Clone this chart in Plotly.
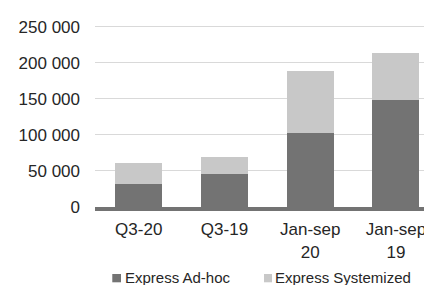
import plotly.graph_objects as go

categories = ["Q3-20", "Q3-19", "Jan-sep<br>20", "Jan-sep<br>19"]
adhoc = [32400, 46300, 103100, 148400]
total = [61500, 69800, 188200, 214000]
systemized = [t - a for t, a in zip(total, adhoc)]
y_ticks = [0, 50000, 100000, 150000, 200000, 250000]
series_names = ["Express Ad-hoc", "Express Systemized"]
series_colors = ["#737373", "#c8c8c8"]

fig = go.Figure()
fig.add_trace(go.Bar(x=categories, y=adhoc, name=series_names[0],
                     marker=dict(color=series_colors[0], line=dict(width=0))))
fig.add_trace(go.Bar(x=categories, y=systemized, name=series_names[1],
                     marker=dict(color=series_colors[1], line=dict(width=0))))

# legend drawn as annotations + small squares (to match the reference layout)
# paper y: plot area spans fig px 2..199 (197 px)
def py(fig_y):
    return (199 - fig_y) / 197

leg_sq = [(0.0513, 0.0772), (0.5015, 0.5252)]
leg_tx = [0.0869, 0.5312]
shapes = []
annotations = []
for (x0, x1), tx, name, col in zip(leg_sq, leg_tx, series_names, series_colors):
    shapes.append(dict(type="rect", xref="paper", yref="paper", x0=x0, x1=x1,
                       y0=py(274.3), y1=py(266), fillcolor=col, line=dict(width=0)))
    annotations.append(dict(xref="paper", yref="paper", x=tx, y=py(269),
                            xanchor="left", yanchor="middle", showarrow=False,
                            text=name, font=dict(size=15, color="#262626"),
                            borderpad=0))

fig.update_layout(
    barmode="stack",
    bargap=0.452,
    width=424, height=277,
    margin=dict(l=87, r=0, t=2, b=78, autoexpand=False),
    paper_bgcolor="white", plot_bgcolor="white",
    separators=", ",
    font=dict(family="Liberation Sans, Arial, sans-serif", size=17, color="#262626"),
    showlegend=False,
    shapes=shapes,
    annotations=annotations,
)
fig.update_xaxes(range=[-0.51, 3.42], showgrid=False, ticks="",
                 showline=True, linecolor="#737373", linewidth=4,
                 tickfont=dict(size=17), ticklabelstandoff=4)
fig.update_yaxes(range=[0, 273000], tickvals=y_ticks, tickformat=",d",
                 showgrid=True, gridcolor="#d9d9d9", gridwidth=1,
                 zeroline=False, showline=False, ticks="", ticklabelstandoff=14)
fig.write_html("out.html")
